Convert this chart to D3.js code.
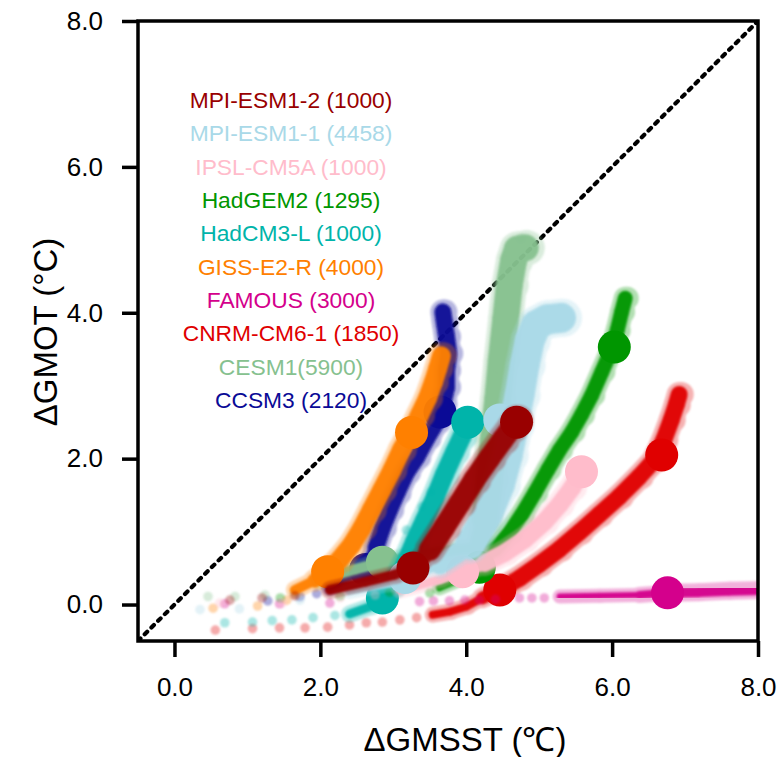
<!DOCTYPE html>
<html>
<head>
<meta charset="utf-8">
<script src="https://cdn.jsdelivr.net/npm/d3@7"></script>
<style>
  html, body { margin: 0; padding: 0; background: #fff; }
  svg { display: block; font-family: "Liberation Sans", Arial, Helvetica, sans-serif; }
</style>
</head>
<body>
<svg id="chart" width="781" height="757"></svg>
<script>
// ---- Axis ticks -------------------------------------------------------
const xTicks = [0, 2, 4, 6, 8];
const yTicks = [0, 2, 4, 6, 8];

// ---- Legend (top to bottom) ------------------------------------------
const legendLabels = [
  "MPI-ESM1-2 (1000)", "MPI-ESM1-1 (4458)", "IPSL-CM5A (1000)", "HadGEM2 (1295)",
  "HadCM3-L (1000)", "GISS-E2-R (4000)", "FAMOUS (3000)", "CNRM-CM6-1 (1850)",
  "CESM1(5900)", "CCSM3 (2120)"
];

// ---- Per-model data: [ΔGMSST, ΔGMOT] in °C ---------------------------
// spread: sparse early-year points; track: dense trajectory; markers: highlighted states
const ccsm3Spread = [[1.28, 0.05], [1.72, 0.11], [1.95, 0.15]];
const ccsm3Track = [[2.13, 0.23], [2.47, 0.41], [2.65, 0.55], [2.76, 0.78], [2.85, 1.05], [2.95, 1.30],
  [3.05, 1.53], [3.18, 1.81], [3.32, 2.02], [3.46, 2.28], [3.59, 2.50], [3.68, 2.75], [3.73, 2.98],
  [3.73, 3.21], [3.76, 3.44], [3.73, 3.67], [3.70, 3.87], [3.68, 4.01]];
const ccsm3Markers = [[2.62, 0.48], [3.64, 2.64]];

const cesm1Spread = [[0.46, 0.11], [0.83, 0.11], [1.24, 0.13], [1.65, 0.16], [4.75, 5.02]];
const cesm1Track = [[1.99, 0.34], [2.47, 0.48], [2.85, 0.58], [3.36, 0.67], [3.84, 0.75], [4.16, 0.78],
  [4.26, 1.16], [4.32, 1.71], [4.37, 2.26], [4.43, 2.80], [4.48, 3.35], [4.54, 3.90], [4.59, 4.38],
  [4.65, 4.72], [4.70, 4.87], [4.81, 4.89]];
const cesm1Markers = [[2.85, 0.58]];

const cnrmSpread = [[0.56, -0.35], [1.07, -0.33], [1.44, -0.32], [1.79, -0.32], [2.10, -0.31],
  [2.40, -0.28], [2.63, -0.25], [2.85, -0.24], [3.09, -0.21], [3.32, -0.18]];
const cnrmTrack = [[3.54, -0.14], [3.77, -0.10], [4.00, -0.03], [4.22, 0.09], [4.46, 0.20], [4.73, 0.36],
  [5.00, 0.55], [5.28, 0.76], [5.55, 0.99], [5.82, 1.23], [6.10, 1.48], [6.37, 1.75], [6.58, 1.98],
  [6.71, 2.26], [6.81, 2.53], [6.88, 2.74], [6.92, 2.88]];
const cnrmMarkers = [[4.46, 0.20], [6.68, 2.05]];

const famousSpread = [[0.69, 0.01], [1.44, 0.01], [2.13, 0.02], [2.81, 0.04], [3.36, 0.04], [3.55, 0.05],
  [3.77, 0.05], [3.98, 0.06], [4.18, 0.06], [4.40, 0.07], [4.73, 0.09], [4.90, 0.09], [5.07, 0.09]];
const famousTrack = [[5.28, 0.11], [5.82, 0.12], [6.37, 0.13], [6.76, 0.16], [7.19, 0.17], [7.60, 0.19],
  [8.05, 0.20]];
const famousMarkers = [[6.76, 0.16]];

const gissSpread = [[0.53, -0.05], [1.14, -0.02], [1.54, 0.06]];
const gissTrack = [[1.65, 0.20], [1.92, 0.33], [2.10, 0.45], [2.26, 0.61], [2.43, 0.82], [2.57, 1.05],
  [2.70, 1.30], [2.84, 1.57], [2.98, 1.84], [3.11, 2.12], [3.25, 2.37], [3.36, 2.60], [3.47, 2.83],
  [3.55, 3.05], [3.61, 3.24], [3.66, 3.41]];
const gissMarkers = [[2.10, 0.45], [3.25, 2.36]];

const hadcm3Spread = [[0.69, -0.25], [1.07, -0.24], [1.34, -0.22], [1.61, -0.21], [1.90, -0.18],
  [2.20, -0.15], [3.18, 1.02], [3.40, 1.34], [3.52, 1.54]];
const hadcm3Track = [[2.40, -0.13], [2.68, -0.03], [2.88, 0.09], [3.02, 0.27], [3.16, 0.55], [3.29, 0.86],
  [3.43, 1.16], [3.57, 1.46], [3.70, 1.78], [3.84, 2.09], [3.94, 2.30], [4.02, 2.50]];
const hadcm3Markers = [[2.85, 0.09], [4.02, 2.50]];

const hadgem2Spread = [[1.45, 0.09], [2.27, 0.12], [2.95, 0.17], [3.50, 0.16]];
const hadgem2Track = [[3.63, 0.23], [3.94, 0.36], [4.18, 0.53], [4.39, 0.75], [4.59, 0.98], [4.76, 1.23],
  [4.94, 1.53], [5.12, 1.85], [5.28, 2.12], [5.45, 2.37], [5.58, 2.60], [5.72, 2.87], [5.86, 3.19],
  [5.99, 3.49], [6.07, 3.76], [6.13, 4.01], [6.18, 4.20]];
const hadgem2Markers = [[4.18, 0.51], [6.03, 3.53]];

const ipslSpread = [[0.62, 0.02], [1.48, 0.02], [2.27, 0.09], [2.75, 0.13]];
const ipslTrack = [[3.09, 0.20], [3.64, 0.34], [3.95, 0.45], [4.25, 0.57], [4.53, 0.71], [4.80, 0.89],
  [5.07, 1.13], [5.28, 1.37], [5.45, 1.60], [5.58, 1.82]];
const ipslMarkers = [[3.95, 0.45], [5.58, 1.82]];

const mpi11Spread = [[0.35, -0.07], [0.89, -0.06], [1.72, 0.06]];
const mpi11Track = [[2.40, 0.20], [2.95, 0.30], [3.16, 0.37], [3.64, 0.55], [4.05, 0.82], [4.29, 1.23],
  [4.46, 1.64], [4.57, 2.05], [4.65, 2.46], [4.73, 2.87], [4.80, 3.28], [4.87, 3.62], [4.96, 3.83],
  [5.11, 3.91], [5.30, 3.93]];
const mpi11Markers = [[3.16, 0.37], [4.46, 2.53]];

const mpi12Spread = [[0.76, 0.06], [1.20, 0.09], [1.65, 0.12]];
const mpi12Track = [[2.13, 0.20], [2.61, 0.31], [3.02, 0.41], [3.27, 0.50], [3.50, 0.75], [3.70, 1.06],
  [3.91, 1.39], [4.11, 1.71], [4.32, 2.01], [4.50, 2.26], [4.62, 2.42], [4.69, 2.53]];
const mpi12Markers = [[3.27, 0.50], [4.69, 2.50]];

// ---- Drawing order and styling ----------------------------------------
// width: stroke of the dense cloud; thin: stroke of its early part; ramp: segment where it thickens
const series = [
  { color: "#0a0a96", spread: ccsm3Spread,  track: ccsm3Track,  markers: ccsm3Markers,  width: 17, thin: 8,  ramp: 2 },
  { color: "#86c18f", spread: cesm1Spread,  track: cesm1Track,  markers: cesm1Markers,  width: 27, thin: 11, ramp: 5 },
  { color: "#e00000", spread: cnrmSpread,   track: cnrmTrack,   markers: cnrmMarkers,   width: 17, thin: 8,  ramp: 3 },
  { color: "#d4008c", spread: famousSpread, track: famousTrack, markers: famousMarkers, width: 10, thin: 6,  ramp: 2 },
  { color: "#ff8000", spread: gissSpread,   track: gissTrack,   markers: gissMarkers,   width: 19, thin: 10, ramp: 1 },
  { color: "#00b4aa", spread: hadcm3Spread, track: hadcm3Track, markers: hadcm3Markers, width: 19, thin: 9,  ramp: 2 },
  { color: "#009600", spread: hadgem2Spread,track: hadgem2Track,markers: hadgem2Markers,width: 15, thin: 7,  ramp: 2 },
  { color: "#ffbccb", spread: ipslSpread,   track: ipslTrack,   markers: ipslMarkers,   width: 18, thin: 9,  ramp: 2 },
  { color: "#a9d9e8", spread: mpi11Spread,  track: mpi11Track,  markers: mpi11Markers,  width: 30, thin: 10, ramp: 3 },
  { color: "#990000", spread: mpi12Spread,  track: mpi12Track,  markers: mpi12Markers,  width: 22, thin: 10, ramp: 3 }
];
const legendColors = ["#990000", "#a9d9e8", "#ffbccb", "#009600", "#00b4aa",
  "#ff8000", "#d4008c", "#e00000", "#86c18f", "#0a0a96"];

// ---- Layout -------------------------------------------------------------
const margin = { left: 138, top: 21, right: 23, bottom: 116 };
const W = 781, H = 757;
const iw = W - margin.left - margin.right;
const ih = H - margin.top - margin.bottom;

const svg = d3.select("#chart");
const defs = svg.append("defs");
defs.append("clipPath").attr("id", "plot-clip")
  .append("rect").attr("width", iw).attr("height", ih);
defs.append("filter").attr("id", "soft").attr("x", "-20%").attr("y", "-20%")
  .attr("width", "140%").attr("height", "140%")
  .append("feGaussianBlur").attr("stdDeviation", 1.3);

const x = d3.scaleLinear().domain([-0.5, 8]).range([0, iw]);
const y = d3.scaleLinear().domain([-0.5, 8]).range([ih, 0]);

const g = svg.append("g").attr("transform", `translate(${margin.left},${margin.top})`);
const plot = g.append("g").attr("clip-path", "url(#plot-clip)");

// 1:1 reference line
plot.append("line")
  .attr("x1", x(-0.5)).attr("y1", y(-0.5)).attr("x2", x(8)).attr("y2", y(8))
  .attr("stroke", "#000").attr("stroke-width", 4.2)
  .attr("stroke-dasharray", "3.5,6").attr("stroke-linecap", "round");

// consecutive pairs of a track, with a stroke that thickens after the ramp index
function segments(s) {
  return d3.pairs(s.track).map((p, i) => {
    const t = Math.max(0, Math.min(1, (i - s.ramp + 1) / 2));
    return { a: p[0], b: p[1], w: s.thin + (s.width - s.thin) * t };
  });
}

series.forEach(s => {
  const layer = plot.append("g");
  const segs = segments(s);
  // sparse scatter
  layer.append("g").attr("filter", "url(#soft)")
    .selectAll("circle").data(s.spread).join("circle")
    .attr("cx", d => x(d[0])).attr("cy", d => y(d[1])).attr("r", 4.8)
    .attr("fill", s.color).attr("fill-opacity", 0.33);
  // soft halo of the dense cloud
  const halo = layer.append("g").attr("opacity", 0.3).attr("filter", "url(#soft)");
  halo.selectAll("line").data(segs).join("line")
    .attr("x1", d => x(d.a[0])).attr("y1", d => y(d.a[1]))
    .attr("x2", d => x(d.b[0])).attr("y2", d => y(d.b[1]))
    .attr("stroke", s.color).attr("stroke-width", d => d.w + 8).attr("stroke-linecap", "round");
  halo.selectAll("circle").data(segs).join("circle")
    .attr("cx", d => x(d.b[0]) + 2).attr("cy", d => y(d.b[1])).attr("r", d => d.w / 2 + 4)
    .attr("fill", s.color);
  // dense core of the cloud
  const core = layer.append("g").attr("opacity", 0.95).attr("filter", "url(#soft)");
  core.selectAll("line").data(segs).join("line")
    .attr("x1", d => x(d.a[0])).attr("y1", d => y(d.a[1]))
    .attr("x2", d => x(d.b[0])).attr("y2", d => y(d.b[1]))
    .attr("stroke", s.color).attr("stroke-width", d => d.w).attr("stroke-linecap", "round");
  // highlighted states
  layer.selectAll("circle.marker").data(s.markers).join("circle")
    .attr("class", "marker")
    .attr("cx", d => x(d[0])).attr("cy", d => y(d[1])).attr("r", 16.5)
    .attr("fill", s.color);
});

// ---- Legend ---------------------------------------------------------------
g.append("g").selectAll("text").data(legendLabels).join("text")
  .attr("x", 291 - margin.left)
  .attr("y", (d, i) => 100 - margin.top + i * 33.35 + 8)
  .attr("text-anchor", "middle")
  .attr("font-size", 22.8)
  .attr("fill", (d, i) => legendColors[i])
  .text(d => d);

// ---- Axes -----------------------------------------------------------------
const fmt = d3.format(".1f");
const xAxis = g.append("g").attr("transform", `translate(0,${ih})`)
  .call(d3.axisBottom(x).tickValues(xTicks).tickFormat(fmt).tickSize(16).tickPadding(21));
const yAxis = g.append("g")
  .call(d3.axisLeft(y).tickValues(yTicks).tickFormat(fmt).tickSize(16).tickPadding(19));
[xAxis, yAxis].forEach(a => {
  a.select(".domain").remove();
  a.selectAll(".tick line").attr("stroke", "#000").attr("stroke-width", 3.5);
  a.selectAll(".tick text").attr("font-size", 26).attr("fill", "#000")
    .attr("font-family", "'Liberation Sans', Arial, sans-serif");
});

// frame
g.append("rect").attr("width", iw).attr("height", ih)
  .attr("fill", "none").attr("stroke", "#000").attr("stroke-width", 3.5);

// axis titles
svg.append("text")
  .attr("x", 465).attr("y", 751)
  .attr("text-anchor", "middle").attr("font-size", 33).attr("fill", "#000")
  .text("ΔGMSST (℃)");
svg.append("text")
  .attr("transform", "translate(57,332) rotate(-90)")
  .attr("text-anchor", "middle").attr("font-size", 33).attr("fill", "#000")
  .text("ΔGMOT (°C)");
</script>
</body>
</html>
